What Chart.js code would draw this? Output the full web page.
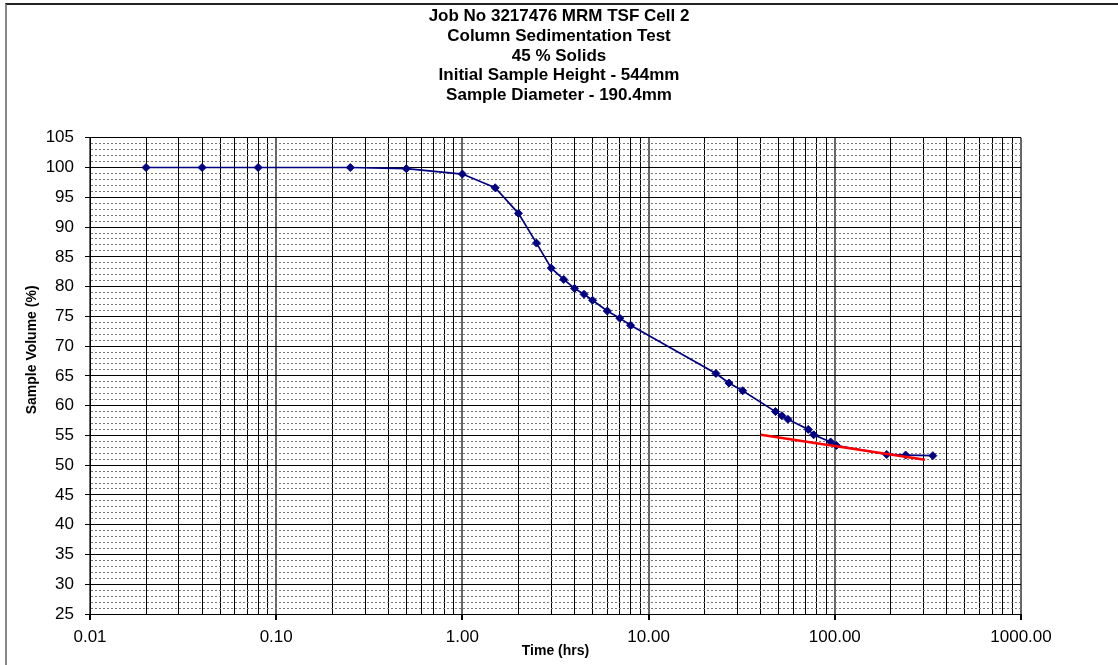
<!DOCTYPE html>
<html>
<head>
<meta charset="utf-8">
<title>Column Sedimentation Test</title>
<script src="https://cdn.jsdelivr.net/npm/chart.js@4/dist/chart.umd.min.js"></script>
<style>
  html, body { margin: 0; padding: 0; background: #fff; }
  #wrap { position: relative; width: 1118px; height: 665px; overflow: hidden; }
  #frame {
    position: absolute; left: 5px; top: 3px; width: 1200px; height: 700px;
    border-top: 2px solid #222; border-left: 2px solid #888;
    pointer-events: none;
  }
</style>
</head>
<body>
<div id="wrap">
  <canvas id="sedChart" width="1118" height="665"></canvas>
  <div id="frame"></div>
</div>
<script>
// sample volume readings vs elapsed time
const timeHrs = [0.02, 0.04, 0.08, 0.25, 0.5, 1, 1.5, 2, 2.5, 3, 3.5, 4, 4.5, 5, 6, 7, 8,
  23, 27, 32, 48, 52, 56, 72, 77, 95, 102, 190, 240, 336];
const sampleVolume = [100, 100, 100, 100, 99.8, 98.9, 96.6, 92.3, 87.3, 83.1, 81.2, 79.7, 78.7, 77.7, 75.9, 74.7, 73.5,
  65.4, 63.8, 62.5, 59.0, 58.3, 57.7, 56.0, 55.1, 53.9, 53.3, 51.8, 51.7, 51.6];

// consolidation trend line
const trendTime = [40, 305];
const trendVolume = [55.1, 50.9];

const titleLines = [
  "Job No 3217476 MRM TSF Cell 2",
  "Column Sedimentation Test",
  "45 % Solids",
  "Initial Sample Height - 544mm",
  "Sample Diameter - 190.4mm"
];
const xTitle = "Time (hrs)";
const yTitle = "Sample Volume (%)";

const xMin = 0.01, xMax = 1000;
const yMin = 25, yMax = 105, yMajor = 5;

Chart.defaults.font.family = "'Liberation Sans', Arial, sans-serif";
Chart.defaults.color = "#000";

function isDecade(v) {
  const l = Math.log10(v);
  return Math.abs(l - Math.round(l)) < 1e-9;
}
function isMajorY(v) {
  return Math.abs(v % yMajor) < 1e-9;
}

// y axis caption sits a little above the middle of the plot, like Excel puts it
const yCaption = {
  id: "yCaption",
  afterDraw(chart) {
    const { ctx, chartArea } = chart;
    ctx.save();
    ctx.font = "bold 14px 'Liberation Sans', Arial, sans-serif";
    ctx.fillStyle = "#000";
    ctx.textAlign = "center";
    ctx.textBaseline = "middle";
    ctx.translate(32, (chartArea.top + chartArea.bottom) / 2 - 26);
    ctx.rotate(-Math.PI / 2);
    ctx.fillText(yTitle, 0, 0);
    ctx.restore();
  }
};

const ctx = document.getElementById("sedChart");
const sedChart = new Chart(ctx, {
  type: "scatter",
  data: {
    datasets: [
      {
        label: "Sample Volume",
        data: timeHrs.map((t, i) => ({ x: t, y: sampleVolume[i] })),
        showLine: true,
        borderColor: "#000080",
        backgroundColor: "#000080",
        borderWidth: 1.7,
        pointStyle: "rectRot",
        pointRadius: 4,
        pointBorderWidth: 1,
        order: 1
      },
      {
        label: "Trend",
        data: trendTime.map((t, i) => ({ x: t, y: trendVolume[i] })),
        showLine: true,
        borderColor: "#ff0000",
        borderWidth: 2.5,
        pointRadius: 0,
        order: 0
      }
    ]
  },
  plugins: [yCaption],
  options: {
    responsive: false,
    animation: false,
    devicePixelRatio: 1,
    layout: { padding: 0 },
    plugins: {
      legend: { display: false },
      tooltip: { enabled: false },
      title: {
        display: true,
        text: titleLines,
        font: { size: 17, weight: "bold", lineHeight: 1.15 },
        color: "#000",
        padding: { top: 7, bottom: 33 }
      }
    },
    scales: {
      x: {
        type: "logarithmic",
        min: xMin,
        max: xMax,
        afterBuildTicks: (scale) => {
          const ticks = [];
          for (let p = -2; p < 3; p++) {
            for (let m = 1; m < 10; m++) ticks.push({ value: m * Math.pow(10, p) });
          }
          ticks.push({ value: xMax });
          scale.ticks = ticks;
        },
        afterFit: (scale) => { scale.height = 51; },
        ticks: {
          autoSkip: false,
          maxRotation: 0,
          padding: 7,
          font: { size: 17 },
          callback: (v) => (isDecade(v) ? Number(v).toFixed(2) : "")
        },
        grid: {
          color: (c) => (c.tick && isDecade(c.tick.value) ? "#666" : "#000"),
          lineWidth: (c) => (c.tick && isDecade(c.tick.value) ? 2 : 1),
          tickColor: (c) => (c.tick && isDecade(c.tick.value) ? "#000" : "rgba(0,0,0,0)"),
          tickLength: 6
        },
        border: { display: true, color: "#000", width: 1 },
        title: {
          display: true,
          text: xTitle,
          font: { size: 14, weight: "bold" },
          padding: { top: 0, bottom: 5 }
        }
      },
      y: {
        type: "linear",
        min: yMin,
        max: yMax,
        afterBuildTicks: (scale) => {
          const ticks = [];
          for (let v = yMin; v <= yMax; v++) ticks.push({ value: v });
          scale.ticks = ticks;
        },
        afterFit: (scale) => { scale.width = 90; },
        ticks: {
          autoSkip: false,
          padding: 11,
          font: { size: 17 },
          callback: (v) => (isMajorY(v) ? String(v) : "")
        },
        grid: {
          color: (c) => (c.tick && isMajorY(c.tick.value) ? "#000" : "#777"),
          lineWidth: 1,
          tickColor: (c) => (c.tick && isMajorY(c.tick.value) ? "#000" : "rgba(0,0,0,0)"),
          tickLength: 5
        },
        border: {
          display: true,
          color: "#000",
          width: 1,
          dash: (c) => (c.tick && !isMajorY(c.tick.value) ? [2, 2] : [])
        }
      },
      // empty right-hand gutter so the plot ends where the sheet's plot area does
      gutter: {
        type: "linear",
        position: "right",
        display: true,
        grid: { display: false },
        border: { display: false },
        ticks: { display: false },
        afterFit: (scale) => { scale.width = 97; }
      }
    }
  }
});
</script>
</body>
</html>
